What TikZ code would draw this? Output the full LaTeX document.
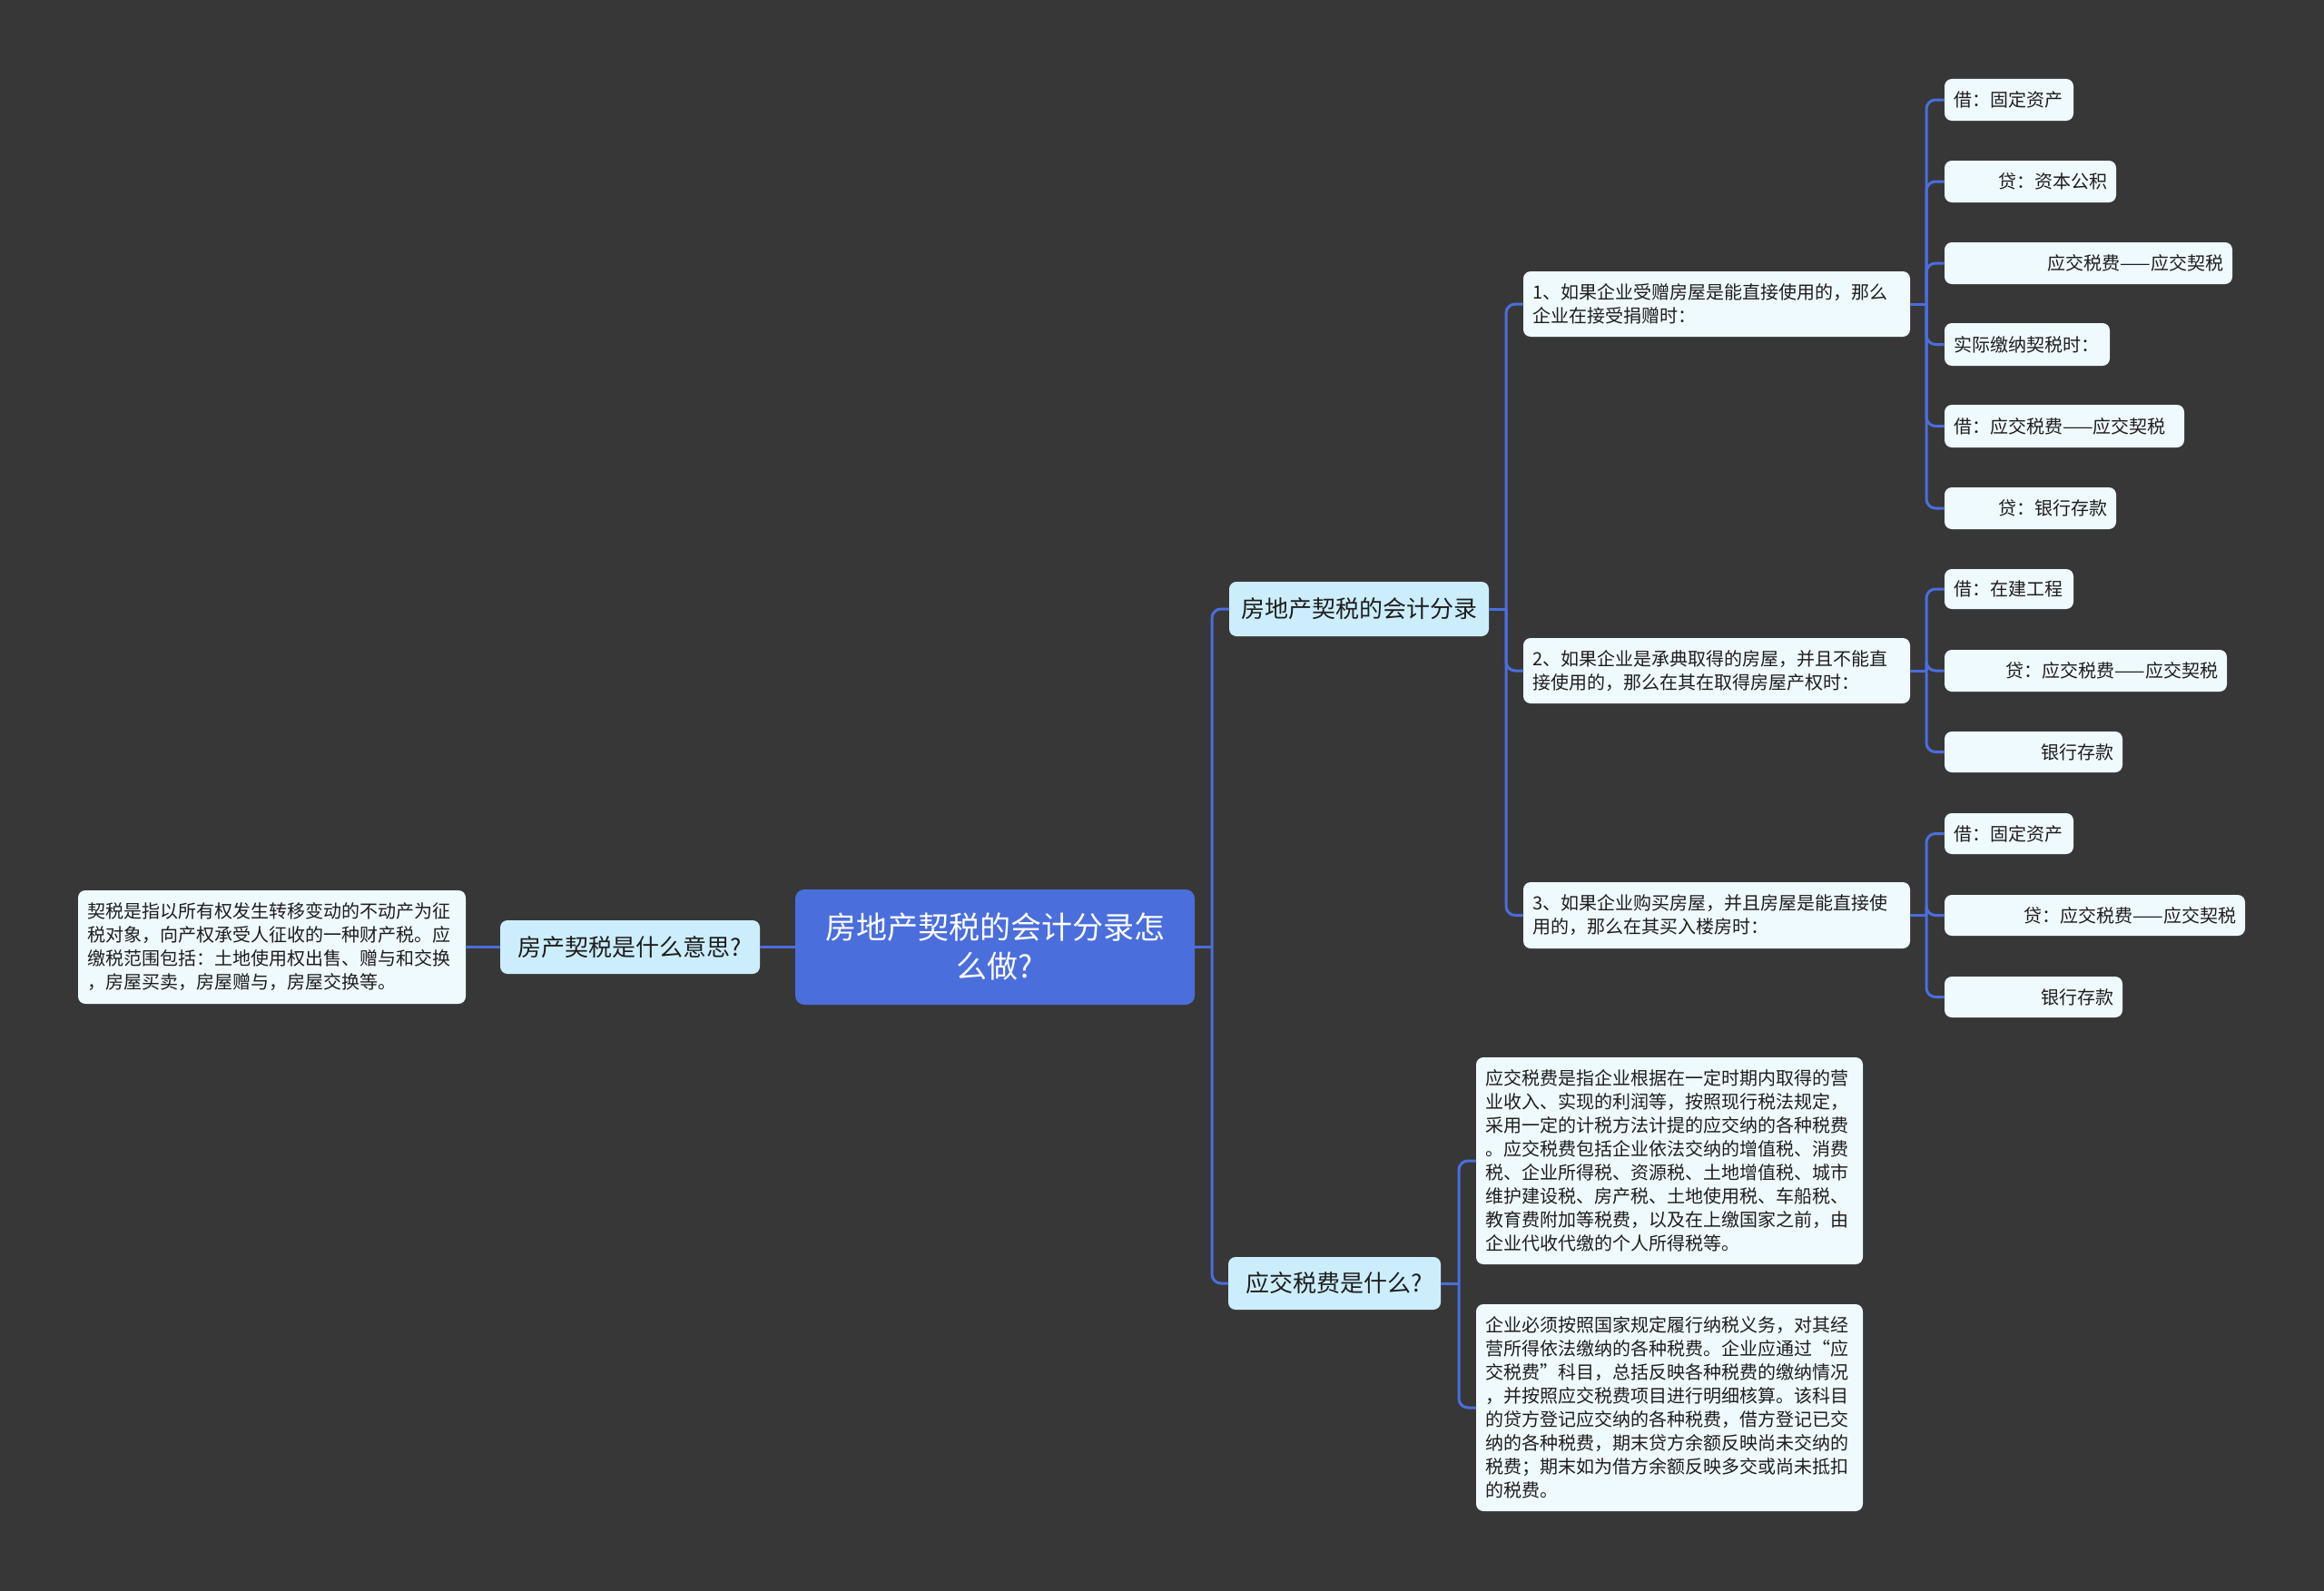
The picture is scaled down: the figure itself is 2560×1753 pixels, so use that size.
\documentclass[tikz,border=0pt]{standalone}
\usepackage{fontspec}
\setmainfont{Noto Sans CJK SC}
\definecolor{bg}{HTML}{383738}
\definecolor{lnc}{HTML}{4A6EDC}
\definecolor{rootc}{HTML}{4A6EDC}
\definecolor{lvtwo}{HTML}{CCEEFC}
\definecolor{leafc}{HTML}{EFFAFE}
\definecolor{txt}{HTML}{1E1E1E}
\tikzset{
  base/.style={inner sep=0pt, outer sep=0pt, rounded corners=8pt, text=txt},
  rootbox/.style={base, fill=rootc, text=white, align=center, rounded corners=10pt, font=\fontsize{34}{43}\selectfont},
  lvtwobox/.style={base, fill=lvtwo, align=center, font=\fontsize{26}{32}\selectfont},
  leafl/.style={base, fill=leafc, align=left, font=\fontsize{20}{26}\selectfont},
  leafr/.style={base, fill=leafc, align=right, font=\fontsize{20}{26}\selectfont},
  conn/.style={draw=lnc, line width=3pt},
  connr/.style={conn, rounded corners=10pt},
}
\newcommand\mkbox[7]{%
  \pgfmathsetlengthmacro\bw{(#5-#3)*1pt}%
  \pgfmathsetlengthmacro\bh{(#6-#4)*1pt}%
  \pgfmathsetlengthmacro\tw{(#5-#3-20)*1pt}%
  \node[#2, minimum width=\bw, minimum height=\bh, text width=\tw] (#1) at ({(#3+#5)/2},{(#4+#6)/2}) {#7};}
\begin{document}
\begin{tikzpicture}[x=1pt,y=-1pt]
\fill[bg] (0,0) rectangle (2560,1753);
\useasboundingbox (0,0) rectangle (2560,1753);

% root and level 2
\mkbox{root}{rootbox}{876}{980}{1316}{1107}{房地产契税的会计分录怎\\么做?}
\mkbox{what}{lvtwobox}{551}{1014}{837}{1073}{房产契税是什么意思?}
\mkbox{whatx}{leafl}{86}{981}{513}{1106}{契税是指以所有权发生转移变动的不动产为征\\税对象，向产权承受人征收的一种财产税。应\\缴税范围包括：土地使用权出售、赠与和交换\\，房屋买卖，房屋赠与，房屋交换等。}
\mkbox{acc}{lvtwobox}{1354}{641}{1640}{701}{房地产契税的会计分录}
\mkbox{tax}{lvtwobox}{1353}{1385}{1587}{1443}{应交税费是什么?}

% items
\mkbox{ia}{leafl}{1678}{299}{2104}{371}{1、如果企业受赠房屋是能直接使用的，那么\\企业在接受捐赠时：}
\mkbox{ib}{leafl}{1678}{703}{2104}{775}{2、如果企业是承典取得的房屋，并且不能直\\接使用的，那么在其在取得房屋产权时：}
\mkbox{ic}{leafl}{1678}{972}{2104}{1045}{3、如果企业购买房屋，并且房屋是能直接使\\用的，那么在其买入楼房时：}

% tax texts
\mkbox{ta}{leafl}{1626}{1165}{2052}{1393}{应交税费是指企业根据在一定时期内取得的营\\业收入、实现的利润等，按照现行税法规定，\\采用一定的计税方法计提的应交纳的各种税费\\。应交税费包括企业依法交纳的增值税、消费\\税、企业所得税、资源税、土地增值税、城市\\维护建设税、房产税、土地使用税、车船税、\\教育费附加等税费，以及在上缴国家之前，由\\企业代收代缴的个人所得税等。}
\mkbox{tb}{leafl}{1626}{1437}{2052}{1665}{企业必须按照国家规定履行纳税义务，对其经\\营所得依法缴纳的各种税费。企业应通过“应\\交税费”科目，总括反映各种税费的缴纳情况\\，并按照应交税费项目进行明细核算。该科目\\的贷方登记应交纳的各种税费，借方登记已交\\纳的各种税费，期末贷方余额反映尚未交纳的\\税费；期末如为借方余额反映多交或尚未抵扣\\的税费。}

% leaves of item 1
\mkbox{a1}{leafl}{2142}{87}{2284}{133}{借：固定资产}
\mkbox{a2}{leafr}{2142}{177}{2331}{223}{贷：资本公积}
\mkbox{a3}{leafr}{2142}{267}{2459}{313}{应交税费——应交契税}
\mkbox{a4}{leafl}{2142}{356}{2324}{403}{实际缴纳契税时：}
\mkbox{a5}{leafl}{2142}{446}{2406}{493}{借：应交税费——应交契税}
\mkbox{a6}{leafr}{2142}{537}{2331}{583}{贷：银行存款}
% leaves of item 2
\mkbox{b1}{leafl}{2142}{627}{2284}{671}{借：在建工程}
\mkbox{b2}{leafr}{2142}{716}{2453}{762}{贷：应交税费——应交契税}
\mkbox{b3}{leafr}{2142}{806}{2338}{851}{银行存款}
% leaves of item 3
\mkbox{c1}{leafl}{2142}{896}{2284}{941}{借：固定资产}
\mkbox{c2}{leafr}{2142}{986}{2473}{1031}{贷：应交税费——应交契税}
\mkbox{c3}{leafr}{2142}{1076}{2338}{1121}{银行存款}

% connectors
\draw[conn] (root.west) -- (what.east);
\draw[conn] (what.west) -- (whatx.east);
\draw[conn] (root.east) -- ++(19,0) coordinate (jr);
\foreach \c in {acc,tax} \draw[connr] (jr) |- (\c.west);
\draw[conn] (acc.east) -- ++(19,0) coordinate (jacc);
\foreach \c in {ia,ib,ic} \draw[connr] (jacc) |- (\c.west);
\draw[conn] (tax.east) -- ++(20,0) coordinate (jtax);
\foreach \c in {ta,tb} \draw[connr] (jtax) |- (\c.west);
\draw[conn] (ia.east) -- ++(18,0) coordinate (jia);
\foreach \c in {a1,a2,a3,a4,a5,a6} \draw[connr] (jia) |- (\c.west);
\draw[conn] (ib.east) -- ++(18,0) coordinate (jib);
\foreach \c in {b1,b2,b3} \draw[connr] (jib) |- (\c.west);
\draw[conn] (ic.east) -- ++(18,0) coordinate (jic);
\foreach \c in {c1,c2,c3} \draw[connr] (jic) |- (\c.west);
\end{tikzpicture}
\end{document}
